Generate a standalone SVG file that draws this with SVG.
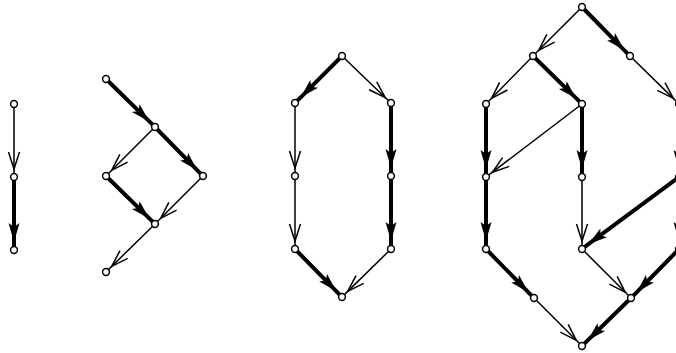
<svg xmlns="http://www.w3.org/2000/svg" width="676" height="353" viewBox="0 0 676 353">
<style>
.t{fill:none;stroke:#000;stroke-width:1.5;marker-mid:url(#open)}
.k{fill:none;stroke:#000;stroke-width:4;marker-mid:url(#fill)}
.n{fill:#fff;stroke:#000;stroke-width:1.5}
</style>
<defs>
<marker id="open" markerUnits="userSpaceOnUse" orient="auto" refX="0" refY="0" markerWidth="30" markerHeight="30" overflow="visible">
<path d="M-17,-5.5 L0,0 L-17,5.5" fill="none" stroke="#000" stroke-width="1.5"/>
</marker>
<marker id="fill" markerUnits="userSpaceOnUse" orient="auto" refX="0" refY="0" markerWidth="30" markerHeight="30" overflow="visible">
<path d="M0,0 L-19,-5.5 L-15,0 L-19,5.5 Z" fill="#000"/>
</marker>
</defs>
<rect width="676" height="353" fill="#fff"/>
<g id="edges">
<polyline class="t" points="14,104 14,169 14,177"/>
<polyline class="k" points="14,177 14,242 14,250"/>
<polyline class="k" points="106,79 149.3,121.4 155,127"/>
<polyline class="t" points="155,127 111.7,170.3 106,176"/>
<polyline class="k" points="155,127 197.4,170.3 203,176"/>
<polyline class="k" points="106,176 149.3,218.4 155,224"/>
<polyline class="t" points="203,176 160.7,218.3 155,224"/>
<polyline class="t" points="155,224 111.7,266.4 106,272"/>
<polyline class="k" points="342,56 300.7,97.3 295,103"/>
<polyline class="t" points="342,56 385.2,97.5 391,103"/>
<polyline class="t" points="295,103 295,168 295,176"/>
<polyline class="t" points="295,176 295,241 295,249"/>
<polyline class="k" points="391,103 391,168 391,176"/>
<polyline class="k" points="391,176 391,241 391,249"/>
<polyline class="k" points="295,249 336.4,291.3 342,297"/>
<polyline class="t" points="391,249 347.7,291.4 342,297"/>
<polyline class="t" points="582,7 538.7,50.3 533,56"/>
<polyline class="k" points="582,7 624.4,50.3 630,56"/>
<polyline class="t" points="533,56 491.6,98.3 486,104"/>
<polyline class="k" points="533,56 576.3,98.4 582,104"/>
<polyline class="t" points="630,56 673.3,98.4 679,104"/>
<polyline class="k" points="486,104 486,169 486,177"/>
<polyline class="t" points="582,104 492.4,172.2 486,177"/>
<polyline class="k" points="582,104 582,169 582,177"/>
<polyline class="k" points="679,104 679,169 679,177"/>
<polyline class="k" points="486,177 486,241 486,249"/>
<polyline class="t" points="582,177 582,241 582,249"/>
<polyline class="k" points="679,177 588.4,244.2 582,249"/>
<polyline class="k" points="679,177 679,241 679,249"/>
<polyline class="k" points="486,249 528.4,292.3 534,298"/>
<polyline class="t" points="582,249 625.3,292.3 631,298"/>
<polyline class="k" points="679,249 636.6,292.3 631,298"/>
<polyline class="t" points="534,298 576.3,340.3 582,346"/>
<polyline class="k" points="631,298 587.7,340.4 582,346"/>
</g>
<g id="n1"><circle class="n" cx="14" cy="104" r="3.4"/></g>
<g id="n2"><circle class="n" cx="14" cy="177" r="3.4"/></g>
<g id="n3"><circle class="n" cx="14" cy="250" r="3.4"/></g>
<g id="n4"><circle class="n" cx="106" cy="79" r="3.4"/></g>
<g id="n5"><circle class="n" cx="155" cy="127" r="3.4"/></g>
<g id="n6"><circle class="n" cx="106" cy="176" r="3.4"/></g>
<g id="n7"><circle class="n" cx="203" cy="176" r="3.4"/></g>
<g id="n8"><circle class="n" cx="155" cy="224" r="3.4"/></g>
<g id="n9"><circle class="n" cx="106" cy="272" r="3.4"/></g>
<g id="n10"><circle class="n" cx="342" cy="56" r="3.4"/></g>
<g id="n11"><circle class="n" cx="295" cy="103" r="3.4"/></g>
<g id="n12"><circle class="n" cx="391" cy="103" r="3.4"/></g>
<g id="n13"><circle class="n" cx="295" cy="176" r="3.4"/></g>
<g id="n14"><circle class="n" cx="391" cy="176" r="3.4"/></g>
<g id="n15"><circle class="n" cx="295" cy="249" r="3.4"/></g>
<g id="n16"><circle class="n" cx="391" cy="249" r="3.4"/></g>
<g id="n17"><circle class="n" cx="342" cy="297" r="3.4"/></g>
<g id="n18"><circle class="n" cx="582" cy="7" r="3.4"/></g>
<g id="n19"><circle class="n" cx="533" cy="56" r="3.4"/></g>
<g id="n20"><circle class="n" cx="630" cy="56" r="3.4"/></g>
<g id="n21"><circle class="n" cx="486" cy="104" r="3.4"/></g>
<g id="n22"><circle class="n" cx="582" cy="104" r="3.4"/></g>
<g id="n23"><circle class="n" cx="679" cy="104" r="3.4"/></g>
<g id="n24"><circle class="n" cx="486" cy="177" r="3.4"/></g>
<g id="n25"><circle class="n" cx="582" cy="177" r="3.4"/></g>
<g id="n26"><circle class="n" cx="679" cy="177" r="3.4"/></g>
<g id="n27"><circle class="n" cx="486" cy="249" r="3.4"/></g>
<g id="n28"><circle class="n" cx="582" cy="249" r="3.4"/></g>
<g id="n29"><circle class="n" cx="679" cy="249" r="3.4"/></g>
<g id="n30"><circle class="n" cx="534" cy="298" r="3.4"/></g>
<g id="n31"><circle class="n" cx="631" cy="298" r="3.4"/></g>
<g id="n32"><circle class="n" cx="582" cy="346" r="3.4"/></g>
</svg>
